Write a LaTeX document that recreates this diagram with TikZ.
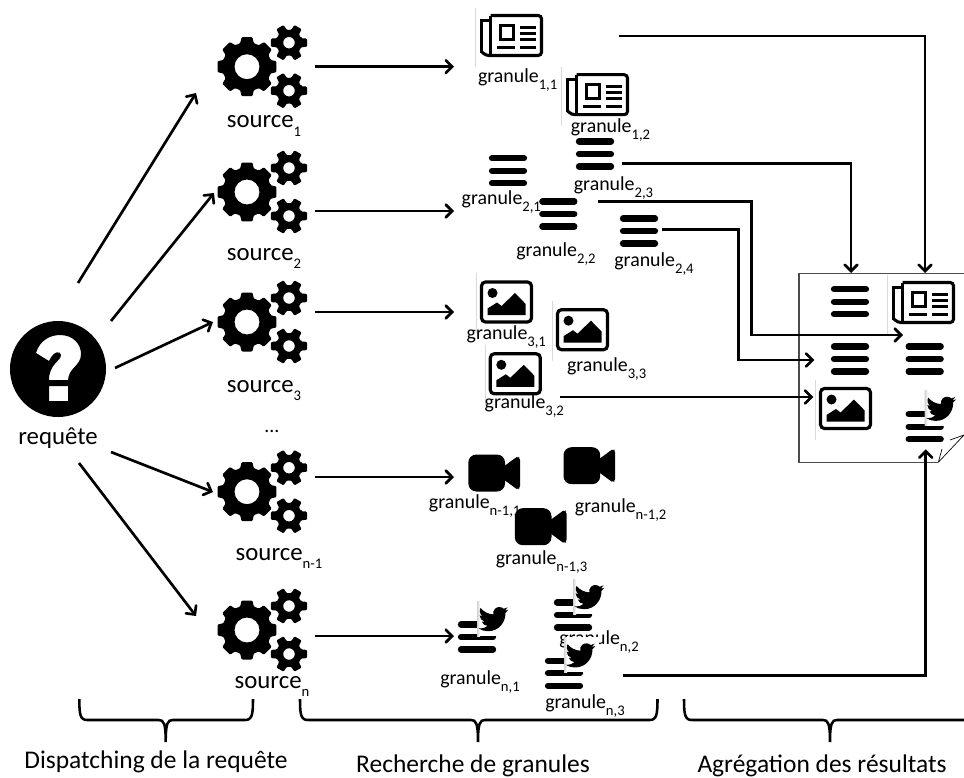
\documentclass[tikz,border=0pt]{standalone}
\usepackage{fontspec}
\setmainfont{Carlito}
\usetikzlibrary{arrows}

\newcommand{\subs}[1]{\raisebox{-.36em}{\fontsize{11}{11}\selectfont #1}}
\newcommand{\gran}[1]{granule\subs{#1}}
\newcommand{\srce}[1]{source\subs{#1}}
\newcommand{\gearfill}[6]{%
	\fill[even odd rule,rounded corners=0.8] (-#6:#3) \foreach \a in {0,#1,...,359} {
		-- (\a-#6:#3) -- (\a-#5:#2) -- (\a+#5:#2) -- (\a+#6:#3)} -- cycle (0,0) circle (#4);}
\newcommand{\curly}[3]{%
	\draw[line width=1.9pt] (#1,699) .. controls (#1,715) and (#1+1,720) .. (#1+8,720)
	-- (#2-7,720) .. controls (#2-2,720) and (#2,723) .. (#2,742)
	.. controls (#2,723) and (#2+2,720) .. (#2+7,720)
	-- (#3-8,720) .. controls (#3-1,720) and (#3,715) .. (#3,699);}

\tikzset{
	icon/.style={inner sep=0pt,minimum size=30},
	lab/.style={anchor=base,inner sep=0pt,font=\fontsize{14.9}{16}\selectfont},
	big/.style={anchor=base,inner sep=0pt,font=\fontsize{18.6}{20}\selectfont},
	bottom/.style={anchor=base,inner sep=0pt,font=\fontsize{19.1}{20}\selectfont},
	arr/.style={line width=2pt,->,>=angle 90},
	edgeline/.style={draw=black!15,line width=.5pt},
	gears/.pic={
		\gearfill{45}{30}{24.5}{12.5}{10.5}{16}
		\begin{scope}[shift={(42,-24)}]\gearfill{60}{18.5}{13}{5.8}{13}{20}\end{scope}
		\begin{scope}[shift={(42,24)}]\gearfill{60}{18.5}{13}{5.8}{13}{20}\end{scope}
	},
	bars/.pic={
		\draw[line width=4.7pt,line cap=round] (-16,-12.5) -- (16,-12.5) (-16,0) -- (16,0) (-16,12.5) -- (16,12.5);
	},
	newspaper/.pic={
		\draw[edgeline] (-36,-28) -- (-36,31);
		\draw[line width=2.3pt,rounded corners=2.5] (-21,-20) -- (30,-20) -- (30,20) -- (-26,20) -- (-30,16);
		\draw[line width=2.3pt] (-30,17) -- (-30,-15) -- (-21,-15) (-21,-20) -- (-21,20);
		\draw[line width=2.2pt] (-11,-10) rectangle (2,4);
		\draw[line width=2.2pt] (8,-8) -- (24,-8) (8,-2) -- (24,-2) (8,4) -- (24,4) (-15,12) -- (3,12) (8,12) -- (24,12);
	},
	photo/.pic={
		\draw[edgeline] (-30,-29) -- (-30,31);
		\draw[line width=2.4pt,rounded corners=3] (-25,-20) rectangle (25,20);
		\fill (-14,-9) circle (5);
		\fill (-19,13) -- (-19,6.5) -- (-9.5,.5) -- (-5,4) -- (8.5,-9) -- (19,1.8) -- (19,13) -- cycle;
	},
	camera/.pic={
		\fill[rounded corners=6] (-25.7,-18.5) rectangle (11,18.5);
		\fill[rounded corners=1.5] (9,-6) -- (24,-17) -- (26,-15) -- (26,15) -- (24,17) -- (9,6) -- cycle;
	},
	tweet/.pic={
		\pic {bars};
		\fill[white] (0,-36) rectangle (35,-1);
		\shade[left color=black!18,right color=white] (0,-36) rectangle (3,-1);
		\begin{scope}[shift={(1.5,-33)},scale=1.25]
			\fill (23.95,4.57) -- (21.13,5.35) -- (23.29,2.62) -- (20.16,3.81) .. controls (18.5,2.2) and (15.4,1.8) .. (13.3,3.7)
			.. controls (12,5) and (11.4,6.7) .. (11.78,8.29) .. controls (7.69,8.1) and (4.07,6.13) .. (1.64,3.16)
			.. controls (.5,5) and (1,8.3) .. (3.16,9.73) .. controls (2.3,9.7) and (1.6,9.5) .. (.93,9.11)
			.. controls (.9,11.5) and (2.6,13.5) .. (4.88,14) .. controls (4.2,14.2) and (3.4,14.2) .. (2.67,14.08)
			.. controls (3.3,16) and (5.2,17.4) .. (7.27,17.5) .. controls (5.6,18.9) and (3.3,19.7) .. (1.17,19.6)
			.. controls (.8,19.6) and (.4,19.6) .. (0,19.54) .. controls (2.2,21) and (4.9,21.75) .. (7.56,21.75)
			.. controls (16.6,21.75) and (21.55,14.25) .. (21.55,7.76) -- (21.54,7.13) -- cycle;
		\end{scope}
	},
	question/.pic={
		\fill[even odd rule] (0,0) circle (48)
		(-22,-16) .. controls (-18,-30) and (-6,-34) .. (2,-34) .. controls (15,-34) and (23,-25) .. (23,-15)
		.. controls (23,-3) and (11,-2) .. (10,11) -- (-9,11) .. controls (-9,-5) and (3,-8) .. (3,-14)
		.. controls (3,-18) and (-4,-19) .. (-9,-8) -- cycle
		(-9,17) rectangle (10,32);
	},
}

\begin{document}
\begin{tikzpicture}[x=.75pt,y=-.75pt]
	\useasboundingbox (0,0) rectangle (964,778);
	%
	\node[icon] (req) at (58,369) {};
	\pic at (req) {question};
	\node[big] (reqlab) at (58,444) {requête};
	%
	\foreach \nm/\y in {s1/66.7,s2/192,s3/322,sm/491.7,sn/630} {
		\node[icon] (\nm) at (247,\y) {};
		\pic at (\nm) {gears};
	}
	\node[big] (s1lab) at (264,127.7) {\srce{1}};
	\node[big] (s2lab) at (264,260) {\srce{2}};
	\node[big] (s3lab) at (264,392) {\srce{3}};
	\node[big] (smlab) at (279,560) {\srce{n-1}};
	\node[big] (snlab) at (272,688) {\srce{n}};
	\node[lab] (dots) at (272,432) {...};
	%
	\foreach \nm/\x/\y/\kind in {g11/511.5/35.5/newspaper,g12/597.5/94.7/newspaper,
		g21/508/170.7/bars,g23/595/154/bars,g22/558.3/214/bars,g24/639/231/bars,
		g31/506.5/302/photo,g33/582.5/329.7/photo,g32/515.3/373.8/photo,
		gm1/494/473/camera,gm2/589.2/465.7/camera,gm3/540.5/526.7/camera,
		gn1/477/637/tweet} {
		\node[icon] (\nm) at (\x,\y) {};
		\pic at (\nm) {\kind};
	}
	\node[lab] (l11) at (517.7,82.7) {\gran{1,1}};
	\node[lab] (l12) at (610.5,132.3) {\gran{1,2}};
	\node[lab] (l21) at (501.3,204.3) {\gran{2,1}};
	\node[lab] (l23) at (613.5,190) {\gran{2,3}};
	\node[lab] (l22) at (556,256.7) {\gran{2,2}};
	\node[lab] (l24) at (654,266) {\gran{2,4}};
	\node[lab] (l31) at (506.3,339) {\gran{3,1}};
	\node[lab] (l33) at (606.7,371) {\gran{3,3}};
	\node[lab] (l32) at (524.3,408.3) {\gran{3,2}};
	\node[lab] (lm1) at (474.7,508.3) {\gran{n-1,1}};
	\node[lab] (lm2) at (620.7,512.3) {\gran{n-1,2}};
	\node[lab] (lm3) at (541.5,564) {\gran{n-1,3}};
	\node[lab] (ln1) at (480,684.3) {\gran{n,1}};
	\node[lab] (ln3) at (585,708) {\gran{n,3}};
	% the label of n,2 goes under the bird of n,3
	\node[icon] (gn2) at (573,615) {};
	\pic at (gn2) {tweet};
	\node[lab] (ln2) at (599,644) {\gran{n,2}};
	\node[icon] (gn3) at (564,673.3) {};
	\pic at (gn3) {tweet};
	%
	% result page
	\draw[black!70,line width=1pt] (964,273.3) -- (799,273.3) -- (799,462.3) -- (938.3,462.3);
	\draw[line width=.5pt] (938.3,462.3) -- (964,435) (938.3,462.3) -- (942,449) (950,440) -- (964,435);
	\foreach \nm/\x/\y/\kind in {r1/850/301.7/bars,r2/923.5/302.5/newspaper,r3/850/359/bars,
		r4/924.7/359/bars,r5/845.5/408.5/photo,r6/924.7/426.7/tweet} {
		\node[icon] (\nm) at (\x,\y) {};
		\pic at (\nm) {\kind};
	}
	%
	\coordinate (q1) at (78,283);
	\coordinate (q2) at (111,321);
	\coordinate (q3) at (115,368);
	\coordinate (qm) at (111,452);
	\coordinate (qn) at (79,463);
	\coordinate (in1) at (196,93);
	\coordinate (in2) at (214,193);
	\coordinate (in3) at (213,322);
	\coordinate (inm) at (213,492);
	\coordinate (inn) at (196,616);
	\path[arr]
	(q1) edge (in1)
	(q2) edge (in2)
	(q3) edge (in3)
	(qm) edge (inm)
	(qn) edge (inn);
	%
	\coordinate (o1) at (315,66.7);
	\coordinate (o2) at (315,211);
	\coordinate (o3) at (315,312);
	\coordinate (om) at (315,477);
	\coordinate (on) at (315,636);
	\coordinate (t1) at (454,66.7);
	\coordinate (t2) at (454,211);
	\coordinate (t3) at (454,312);
	\coordinate (tm) at (454,477);
	\coordinate (tn) at (454,636);
	\path[arr]
	(o1) edge (t1)
	(o2) edge (t2)
	(o3) edge (t3)
	(om) edge (tm)
	(on) edge (tn);
	%
	\coordinate (p11) at (619,36);
	\coordinate (p23) at (621.7,163.3);
	\coordinate (p22) at (598.3,201.7);
	\coordinate (p24) at (662.3,229.3);
	\coordinate (p32) at (560,397);
	\coordinate (pn3) at (622.7,675.7);
	\coordinate (c22) at (751.5,335);
	\coordinate (c24) at (738.3,360);
	\coordinate (e11) at (925,273);
	\coordinate (e23) at (851,273);
	\coordinate (e22) at (903,335);
	\coordinate (e24) at (814.3,360);
	\coordinate (e32) at (813.3,397);
	\coordinate (en3) at (925.7,449.3);
	\draw[arr] (p11) -| (e11);
	\draw[arr] (p23) -| (e23);
	\draw[arr] (p22) -| (c22) -- (e22);
	\draw[arr] (p24) -| (c24) -- (e24);
	\draw[arr] (p32) -- (e32);
	\draw[arr] (pn3) -| (en3);
	%
	\curly{79.3}{165.7}{253}
	\curly{300}{478}{657.5}
	\curly{684}{830}{976}
	\node[bottom] (disp) at (156,768) {Dispatching de la requête};
	\node[bottom] (rech) at (473,772) {Recherche de granules};
	\node[bottom] (agre) at (822,772) {Agrégation des résultats};
\end{tikzpicture}
\end{document}
